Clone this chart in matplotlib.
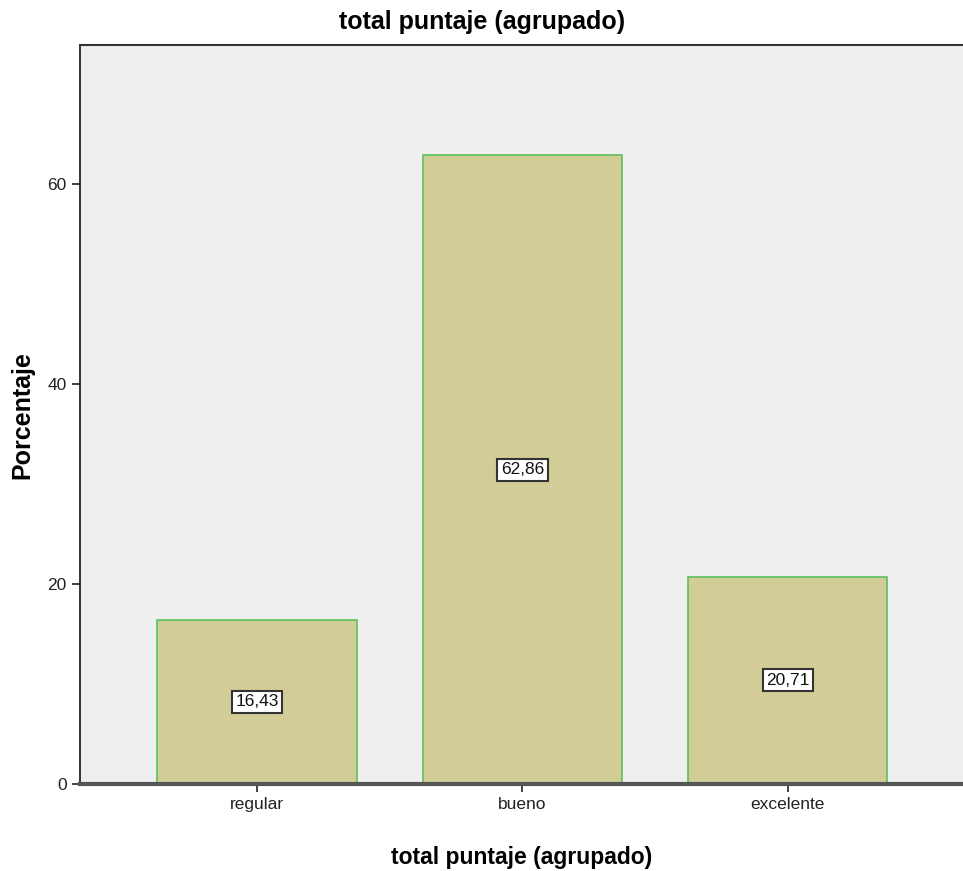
import matplotlib.pyplot as plt

plt.rcParams["font.family"] = ["Liberation Sans", "DejaVu Sans"]

# Data
categories = ["regular", "bueno", "excelente"]
percentages = [16.43, 62.86, 20.71]
value_labels = ["16,43", "62,86", "20,71"]
y_ticks = [0, 20, 40, 60]

fig = plt.figure(figsize=(9.63, 8.71), dpi=100)
ax = fig.add_axes([80 / 963, 87 / 871, 1 - 80 / 963, (784 - 45) / 871])
ax.set_facecolor("#efefef")

x = list(range(len(categories)))
ax.bar(x, percentages, width=0.75, color="#d2cd96", edgecolor="#5cc05c", linewidth=1.2, zorder=2)

# value boxes at mid height
for xi, val, lab in zip(x, percentages, value_labels):
    ax.text(xi, val / 2, lab, ha="center", va="center", fontsize=12.5, zorder=3,
            color="#111111",
            bbox=dict(boxstyle="square,pad=0.2", facecolor="white", edgecolor="#333333", linewidth=1.5))

ax.set_xlim(-0.667, 2.66)
ax.set_ylim(0, 73.9)
ax.set_xticks(x)
ax.set_xticklabels(categories, fontsize=12.5, color="#222222")
ax.set_yticks(y_ticks)
ax.set_yticklabels([str(t) for t in y_ticks], fontsize=12.5, color="#222222")
ax.tick_params(axis="both", direction="out", length=6, width=1.2, color="#222222")

ax.spines["right"].set_visible(False)
ax.spines["top"].set_color("#333333")
ax.spines["top"].set_linewidth(1.5)
ax.spines["left"].set_color("#111111")
ax.spines["left"].set_linewidth(1.2)
ax.spines["bottom"].set_color("#555555")
ax.spines["bottom"].set_linewidth(3)

fig.text(482 / 963, 1 - 22 / 871, "total puntaje (agrupado)", ha="center", va="center",
         fontsize=18, fontweight="bold")
fig.text(522 / 963, 1 - 857 / 871, "total puntaje (agrupado)", ha="center", va="center",
         fontsize=16.5, fontweight="bold")
fig.text(22 / 963, 1 - 415 / 871, "Porcentaje", ha="center", va="center", rotation=90,
         fontsize=18, fontweight="bold")

fig.savefig("out.png", dpi=100)
